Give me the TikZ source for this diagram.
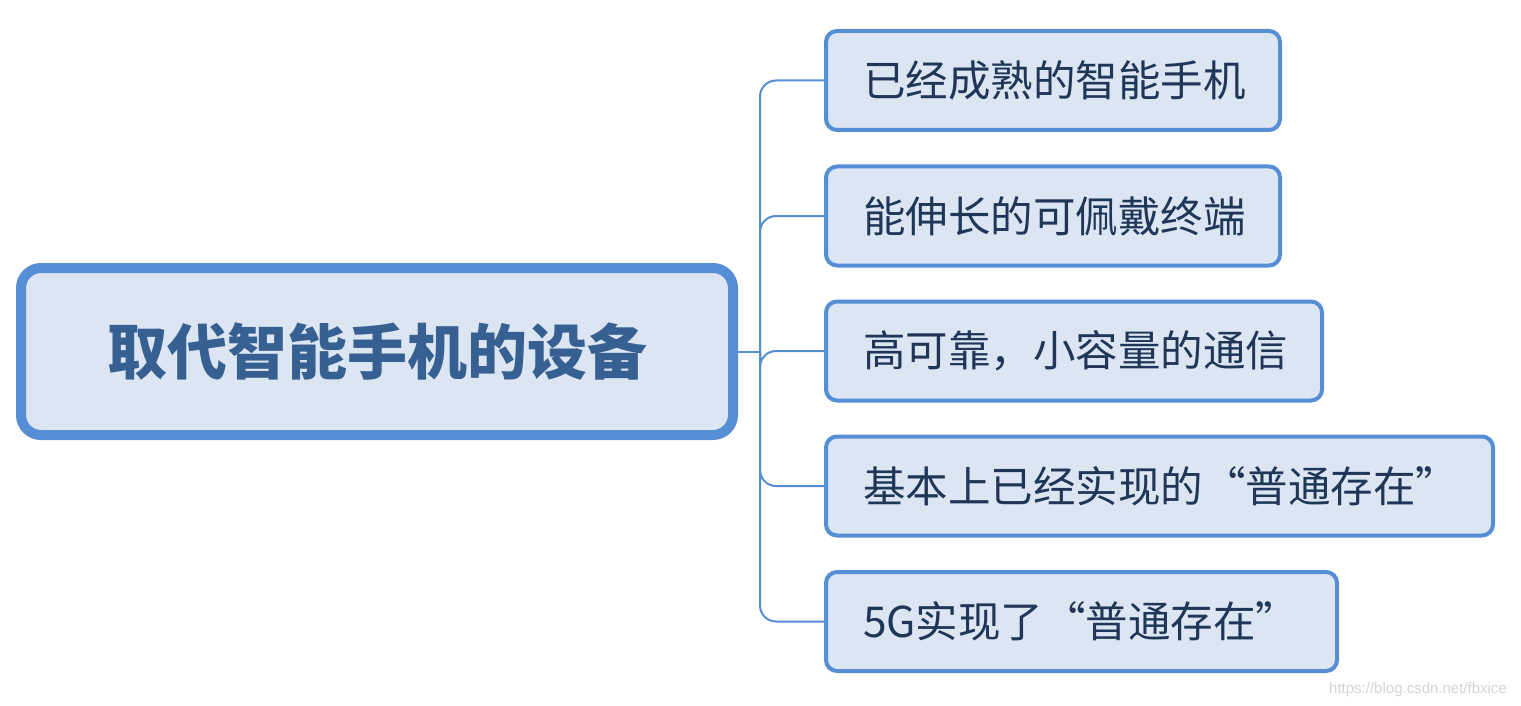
\documentclass[tikz,border=0pt]{standalone}
\usepackage{fontspec}
\newfontfamily\cjk{Noto Sans CJK SC}
\newfontfamily\wmfont{Liberation Sans}
\definecolor{boxfill}{HTML}{DCE6F2}
\definecolor{boxline}{HTML}{558ED5}
\definecolor{maintext}{HTML}{366092}
\definecolor{childtext}{HTML}{1F3658}
\definecolor{wmgray}{HTML}{D4D4D4}
\tikzset{
  mainbox/.style={draw=boxline, fill=boxfill, line width=10pt, rounded corners=20pt,
    minimum width=712pt, minimum height=167pt, inner sep=0pt,
    font=\cjk\bfseries\fontsize{60pt}{62pt}\selectfont, text=maintext},
  childbox/.style={draw=boxline, fill=boxfill, line width=4pt, rounded corners=11pt,
    minimum height=99pt, inner xsep=37pt, inner ysep=0pt, anchor=west, align=left,
    font=\cjk\fontsize{42.5pt}{44pt}\selectfont, text=childtext},
  link/.style={draw=boxline, line width=2pt, rounded corners=16pt}
}
\begin{document}
\begin{tikzpicture}[x=1pt,y=-1pt]
\useasboundingbox (0,0) rectangle (1521,706);
\node[mainbox] (main) at (377,351.5) {取代智能手机的设备};
\node[childbox, text width=380pt] (c1) at (824,80.5) {已经成熟的智能手机};
\node[childbox, text width=380pt] (c2) at (824,216) {能伸长的可佩戴终端};
\node[childbox, text width=422pt] (c3) at (824,351) {高可靠，小容量的通信};
\node[childbox, text width=593pt] (c4) at (824,486) {基本上已经实现的“普通存在”};
\node[childbox, text width=437pt] (c5) at (824,621.5) {5G实现了“普通存在”};
\coordinate (hub) at (760,351.5);
\draw[link] (main.east) -- (hub);
\foreach \c in {c1,c2,c3,c4,c5} {
  \draw[link] (hub) |- (\c.west);
}
\node[anchor=center, text=wmgray, font=\wmfont\fontsize{15pt}{17pt}\selectfont] (wm) at (1418,690) {https://blog.csdn.net/fbxice};
\end{tikzpicture}
\end{document}
